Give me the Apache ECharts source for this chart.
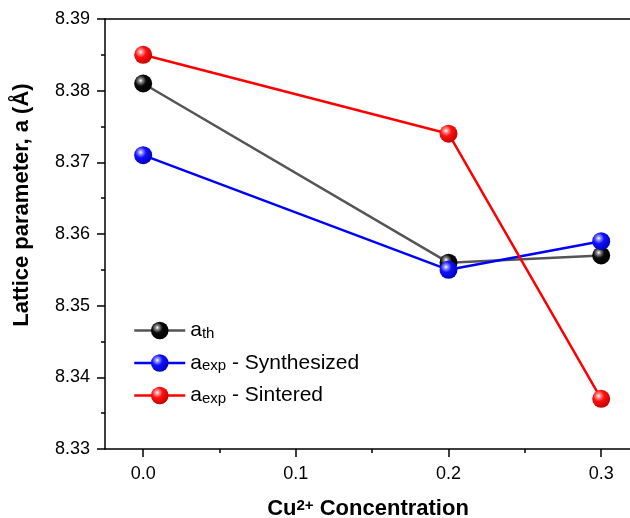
<!DOCTYPE html>
<html>
<head>
<meta charset="utf-8">
<script src="https://cdn.jsdelivr.net/npm/echarts@6/dist/echarts.min.js"></script>
<style>
  html, body { margin: 0; padding: 0; background: #fff; }
  #chart { width: 630px; height: 518px; }
</style>
</head>
<body>
<div id="chart"></div>
<script>
// Cu2+ concentration (x) and lattice parameters (Å)
const concentrations = [0.0, 0.2, 0.3];
const aTheoretical = [8.381, 8.356, 8.357];
const aSynthesized = [8.371, 8.355, 8.359];
const aSintered = [8.385, 8.374, 8.337];

const xMajorTicks = [0.0, 0.1, 0.2, 0.3];
const xMinorTicks = [0.05, 0.15, 0.25];

const seriesNames = ['a_th', 'a_exp_syn', 'a_exp_sin'];
const legendLabels = {
  a_th: 'a{sub|th}',
  a_exp_syn: 'a{sub|exp} - Synthesized',
  a_exp_sin: 'a{sub|exp} - Sintered'
};

const FONT = 'Liberation Sans, Arial, sans-serif';

// glossy sphere marker fill
function sphere(base, mid, dark) {
  return {
    type: 'radial', x: 0.36, y: 0.34, r: 0.72,
    colorStops: [
      { offset: 0, color: '#ffffff' },
      { offset: 0.16, color: mid },
      { offset: 0.42, color: base },
      { offset: 1, color: dark }
    ]
  };
}

function pairs(values) {
  return concentrations.map((c, i) => [c, values[i]]);
}

function lineSeries(name, values, lineColor, fill) {
  return {
    name: name,
    type: 'line',
    data: pairs(values),
    symbol: 'circle',
    symbolSize: 18,
    lineStyle: { color: lineColor, width: 2.5 },
    itemStyle: { color: fill, borderWidth: 0 },
    emphasis: { disabled: true },
    z: 3
  };
}

const X_MIN = -0.025, X_MAX = 0.33;

const chart = echarts.init(document.getElementById('chart'), null, { renderer: 'canvas' });

chart.setOption({
  animation: false,
  backgroundColor: '#fff',
  grid: {
    left: 105, top: 19, bottom: 69, width: 542,
    show: false, containLabel: false, outerBoundsMode: 'none'
  },
  xAxis: [
    {
      type: 'value', min: X_MIN, max: X_MAX,
      name: 'Cu{sup|2+} Concentration',
      nameLocation: 'middle', nameGap: 49,
      nameTextStyle: {
        fontFamily: FONT, fontSize: 22, fontWeight: 'bold', color: '#000',
        padding: [0, 16, 0, 0],
        rich: {
          sup: { fontFamily: FONT, fontSize: 15, fontWeight: 'bold', color: '#000', verticalAlign: 'top', lineHeight: 12 }
        }
      },
      axisLine: { show: true, onZero: false, lineStyle: { color: '#000', width: 1.5 } },
      axisTick: { show: true, inside: false, length: 8, lineStyle: { color: '#000', width: 1.5 }, customValues: xMajorTicks },
      axisLabel: {
        fontFamily: FONT, fontSize: 18, color: '#000', margin: 16,
        customValues: xMajorTicks,
        formatter: v => v.toFixed(1)
      },
      splitLine: { show: false }
    },
    {
      type: 'value', min: X_MIN, max: X_MAX, position: 'bottom', offset: 0,
      axisLine: { show: false },
      axisTick: { show: true, inside: false, length: 4, lineStyle: { color: '#000', width: 1.5 }, customValues: xMinorTicks },
      axisLabel: { show: false, customValues: xMinorTicks },
      splitLine: { show: false }
    },
    {
      // top frame line
      type: 'value', min: X_MIN, max: X_MAX, position: 'top', offset: 0,
      axisLine: { show: true, onZero: false, lineStyle: { color: '#000', width: 1.5 } },
      axisTick: { show: false },
      axisLabel: { show: false },
      splitLine: { show: false }
    }
  ],
  yAxis: {
    type: 'value', min: 8.33, max: 8.39, interval: 0.01,
    name: 'Lattice parameter, a (Å)',
    nameLocation: 'middle', nameGap: 72,
    nameTextStyle: { fontFamily: FONT, fontSize: 22, fontWeight: 'bold', color: '#000', padding: [0, 0, 0, 58] },
    axisLine: { show: true, onZero: false, lineStyle: { color: '#000', width: 1.5 } },
    axisTick: { show: true, inside: false, length: 8, lineStyle: { color: '#000', width: 1.5 } },
    minorTick: { show: true, splitNumber: 2, length: 4, lineStyle: { color: '#000', width: 1.5 } },
    axisLabel: {
      fontFamily: FONT, fontSize: 18, color: '#000', margin: 15,
      formatter: v => v.toFixed(2)
    },
    splitLine: { show: false }
  },
  legend: {
    left: 128, top: 315, orient: 'vertical',
    itemWidth: 51, itemHeight: 22, itemGap: 11.5,
    data: seriesNames,
    formatter: name => legendLabels[name],
    lineStyle: { width: 2.5 },
    textStyle: {
      fontFamily: FONT, fontSize: 21, color: '#000',
      rich: {
        sub: { fontFamily: FONT, fontSize: 15, color: '#000', verticalAlign: 'bottom' }
      }
    },
    selectedMode: false
  },
  series: [
    lineSeries('a_th', aTheoretical, '#555555', sphere('#0a0a0a', '#888888', '#000000')),
    lineSeries('a_exp_syn', aSynthesized, '#0000ff', sphere('#1010ff', '#9090ff', '#0000b0')),
    lineSeries('a_exp_sin', aSintered, '#ff0000', sphere('#ff1010', '#ff9090', '#c00000'))
  ]
});
</script>
</body>
</html>
